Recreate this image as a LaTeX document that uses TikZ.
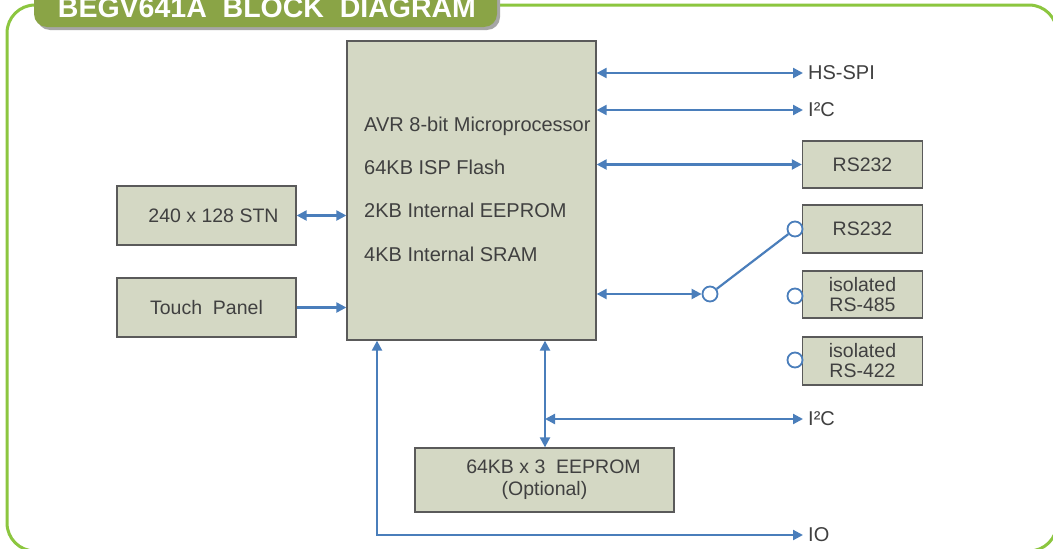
\documentclass[tikz,border=0pt]{standalone}
\usepackage{fontspec}
\setmainfont{Liberation Sans}
\usetikzlibrary{arrows.meta}
\definecolor{frameg}{HTML}{8CC63F}
\definecolor{tabg}{HTML}{8AA446}
\definecolor{boxfill}{HTML}{D4D8C4}
\definecolor{boxline}{HTML}{5A5A5A}
\definecolor{txt}{HTML}{404040}
\definecolor{wire}{HTML}{4A7EBB}
\tikzset{
  blk/.style={draw=boxline, line width=1.3pt, fill=boxfill, inner sep=0pt, text=txt, align=center, font=\fontsize{19.5}{22}\selectfont},
  lbl/.style={anchor=west, inner sep=0pt, inner xsep=5pt, text=txt, font=\fontsize{20}{22}\selectfont},
  wr/.style={draw=wire, line width=2.2pt},
  bi/.style={wr, {Triangle[length=10pt, width=10pt]}-{Triangle[length=10pt, width=10pt]}},
  uni/.style={wr, -{Triangle[length=10pt, width=10pt]}},
  sw/.style={circle, draw=wire, line width=1.8pt, fill=white, minimum size=15pt, inner sep=0pt},
}
\begin{document}
\begin{tikzpicture}[x=1pt,y=-1pt]
\useasboundingbox (0,0) rectangle (1053,549);
\clip (0,0) rectangle (1053,549);
\fill[white] (0,0) rectangle (1053,549);
% outer frame
\draw[frameg, line width=3pt, rounded corners=28pt] (7,5) rectangle (1057,551);
% title tab
\fill[gray!70, rounded corners=13pt] (37,-30) rectangle (500,30);
\fill[tabg, rounded corners=13pt] (34,-30) rectangle (497,27);
\node[text=white, font=\fontsize{28.5}{30}\selectfont\bfseries, anchor=base] (title) at (267,17) {BEGV641A\ \ BLOCK\ \ DIAGRAM};
% main processor box
\node[blk, minimum width=249pt, minimum height=299pt] (cpu) at (471.5,190.5) {};
\node[lbl, anchor=base west, inner xsep=0pt] (t1) at (364,131) {AVR 8-bit Microprocessor};
\node[lbl, anchor=base west, inner xsep=0pt] (t2) at (364,174) {64KB ISP Flash};
\node[lbl, anchor=base west, inner xsep=0pt] (t3) at (364,217) {2KB Internal EEPROM};
\node[lbl, anchor=base west, inner xsep=0pt] (t4) at (364,261) {4KB Internal SRAM};
% left boxes
\node[blk, minimum width=179pt, minimum height=59pt] (stn) at (206.5,215.5) {\hspace*{14pt}240 x 128 STN};
\node[blk, minimum width=179pt, minimum height=59pt] (touch) at (206.5,307.5) {Touch\ \ Panel};
% right boxes
\node[blk, minimum width=120pt, minimum height=47pt] (rs1) at (862.5,164.5) {RS232};
\node[blk, minimum width=120pt, minimum height=48pt] (rs2) at (862.5,229) {RS232};
\node[blk, minimum width=120pt, minimum height=47pt] (rs485) at (862.5,294.5) {isolated\\[-2pt]RS-485};
\node[blk, minimum width=120pt, minimum height=48pt] (rs422) at (862.5,361) {isolated\\[-2pt]RS-422};
% eeprom
\node[blk, minimum width=259pt, minimum height=64pt] (eep) at (544.5,480) {\hspace*{18pt}64KB x 3\ \ EEPROM\\[0pt](Optional)};
% labels
\node[lbl] (hsspi) at (803,73) {HS-SPI};
\node[lbl] (i2ca) at (803,110) {I²C};
\node[lbl] (i2cb) at (803,419) {I²C};
\node[lbl] (io) at (803,535) {IO};
% switch circles
\node[sw] (c0) at (710,294) {};
\node[sw] (c1) at (795,229) {};
\node[sw] (c2) at (795,296) {};
\node[sw] (c3) at (795,360) {};
% connectors
\draw[bi] (cpu.east |- hsspi) -- (hsspi.west);
\draw[bi] (cpu.east |- i2ca) -- (i2ca.west);
\draw[bi] (cpu.east |- rs1) -- (rs1.west);
\draw[bi] (cpu.east |- c0) -- (c0.west);
\draw[wr] (c0) -- (c1);
\draw[bi] (stn.east) -- (stn.east -| cpu.west);
\draw[uni] (touch.east) -- (touch.east -| cpu.west);
\coordinate (vx) at (545,0);
\draw[bi] (vx |- cpu.south) -- (vx |- eep.north);
\draw[bi] (vx |- i2cb) -- (i2cb.west);
\coordinate (iox) at (377,0);
\draw[bi] (iox |- cpu.south) -- (iox |- io) -- (io.west);
\end{tikzpicture}
\end{document}
